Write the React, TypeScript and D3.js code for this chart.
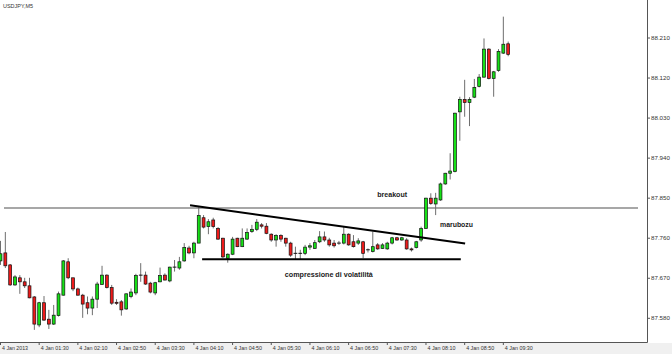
import React from "react";
import * as d3 from "d3";

const W = 672;
const H = 354;

const openP = [87.709,87.727,87.700,87.655,87.671,87.662,87.653,87.628,87.565,87.615,87.578,87.567,87.586,87.632,87.707,87.671,87.646,87.632,87.615,87.603,87.623,87.656,87.677,87.649,87.616,87.617,87.601,87.629,87.637,87.677,87.677,87.659,87.637,87.662,87.677,87.664,87.695,87.693,87.709,87.738,87.727,87.749,87.806,87.786,87.801,87.782,87.760,87.715,87.724,87.760,87.741,87.758,87.775,87.780,87.790,87.787,87.769,87.756,87.766,87.760,87.749,87.726,87.726,87.726,87.740,87.737,87.752,87.763,87.756,87.749,87.749,87.749,87.769,87.752,87.749,87.752,87.734,87.730,87.745,87.737,87.736,87.749,87.761,87.756,87.756,87.736,87.739,87.756,87.782,87.850,87.837,87.846,87.882,87.906,87.910,88.044,88.072,88.065,88.077,88.101,88.122,88.185,88.119,88.137,88.176,88.197];
const highP = [87.754,87.774,87.702,87.677,87.677,87.671,87.671,87.630,87.617,87.630,87.599,87.610,87.640,87.711,87.715,87.671,87.649,87.635,87.629,87.629,87.662,87.698,87.679,87.655,87.623,87.621,87.636,87.647,87.680,87.704,87.685,87.662,87.662,87.694,87.681,87.696,87.711,87.718,87.749,87.743,87.752,87.830,87.812,87.803,87.806,87.785,87.761,87.726,87.763,87.761,87.782,87.782,87.790,87.803,87.794,87.794,87.771,87.769,87.769,87.761,87.752,87.741,87.734,87.745,87.749,87.756,87.776,87.775,87.761,87.756,87.754,87.786,87.771,87.767,87.760,87.754,87.737,87.775,87.749,87.749,87.752,87.763,87.763,87.763,87.760,87.739,87.754,87.786,87.851,87.861,87.862,87.885,87.907,87.951,88.042,88.078,88.116,88.077,88.118,88.129,88.209,88.187,88.136,88.185,88.258,88.202];
const lowP = [87.700,87.693,87.653,87.653,87.635,87.648,87.625,87.554,87.560,87.574,87.556,87.565,87.584,87.631,87.668,87.641,87.631,87.581,87.589,87.587,87.603,87.655,87.647,87.610,87.610,87.586,87.599,87.625,87.632,87.662,87.655,87.636,87.632,87.661,87.665,87.661,87.685,87.689,87.707,87.724,87.715,87.749,87.782,87.769,87.782,87.756,87.715,87.705,87.722,87.740,87.740,87.756,87.772,87.776,87.782,87.769,87.752,87.741,87.752,87.741,87.718,87.711,87.711,87.722,87.734,87.736,87.749,87.752,87.741,87.739,87.745,87.746,87.743,87.739,87.745,87.715,87.728,87.728,87.734,87.736,87.734,87.746,87.754,87.754,87.734,87.730,87.737,87.752,87.781,87.835,87.812,87.844,87.880,87.892,87.908,87.979,88.033,88.012,88.075,88.099,88.121,88.117,88.078,88.134,88.174,88.169];
const closeP = [87.725,87.698,87.655,87.673,87.662,87.653,87.626,87.567,87.615,87.576,87.567,87.587,87.635,87.709,87.671,87.646,87.632,87.612,87.603,87.623,87.657,87.677,87.649,87.614,87.615,87.599,87.635,87.639,87.676,87.677,87.657,87.639,87.660,87.676,87.666,87.695,87.695,87.707,87.739,87.727,87.749,87.811,87.785,87.797,87.786,87.758,87.718,87.724,87.758,87.741,87.760,87.773,87.780,87.796,87.787,87.771,87.756,87.766,87.758,87.749,87.722,87.726,87.726,87.740,87.743,87.750,87.763,87.756,87.745,87.743,87.749,87.769,87.745,87.741,87.754,87.726,87.734,87.741,87.736,87.745,87.749,87.761,87.756,87.761,87.736,87.734,87.752,87.782,87.850,87.838,87.850,87.882,87.906,87.911,88.041,88.072,88.065,88.072,88.099,88.122,88.185,88.119,88.134,88.180,88.196,88.173];

const priceTicks = [87.58, 87.67, 87.76, 87.85, 87.94, 88.03, 88.12, 88.21];
const timeLabels = ["4 Jan 2013","4 Jan 01:30","4 Jan 02:10","4 Jan 02:50","4 Jan 03:30","4 Jan 04:10","4 Jan 04:50","4 Jan 05:30","4 Jan 06:10","4 Jan 06:50","4 Jan 07:30","4 Jan 08:10","4 Jan 08:50","4 Jan 09:30"];
const timeTickIndex = [0,8,16,24,32,40,48,56,64,72,80,88,96,104];

const levelPrice = 87.828;
const resistance = [{ i: 39.2, p: 87.834 }, { i: 96.1, p: 87.748 }];
const support = [{ i: 41.7, p: 87.713 }, { i: 95.2, p: 87.713 }];

const symbolTitle = "USDJPY,M5";
const notes = [
  { text: "breakout", i: 77.9, p: 87.853, w: 30 },
  { text: "marubozu", i: 90.9, p: 87.786, w: 33 },
  { text: "compressione di volatilità", i: 58.8, p: 87.672, w: 88 },
];

export default function App() {
  const plotRight = 647;
  const plotBottom = 342;
  const x = d3.scaleLinear().domain([0, 105]).range([0.5, 0.5 + 105 * 4.835]);
  const y = d3.scaleLinear().domain([87.58, 88.21]).range([318.3, 38]);
  const bodyW = 2.9;
  const font = "'Liberation Sans', Arial, sans-serif";
  const line = d3.line<{ i: number; p: number }>().x((d) => x(d.i)).y((d) => y(d.p));

  return (
    <svg width={W} height={H} style={{ position: "absolute", left: 0, top: 0, background: "#fff" }} fontFamily={font}>
      <rect x={0} y={0} width={W} height={H} fill="#fff" />
      <rect x={0} y={plotBottom + 1} width={W} height={H - plotBottom - 1} fill="#f0f0f0" />
      <text x={3} y={8} fontSize={6} fill="#333" textLength={30} lengthAdjust="spacingAndGlyphs">{symbolTitle}</text>

      {/* level line */}
      <line x1={4} x2={638} y1={y(levelPrice)} y2={y(levelPrice)} stroke="#8a8a8a" strokeWidth={1.4} />

      {/* candles */}
      {openP.map((o, i) => {
        const c = closeP[i];
        const cx = x(i);
        const up = c > o;
        const doji = Math.abs(c - o) < 0.0008;
        const top = y(Math.max(o, c));
        const bot = y(Math.min(o, c));
        return (
          <g key={i}>
            <line x1={cx} x2={cx} y1={y(highP[i])} y2={y(lowP[i])} stroke="#6e6e6e" strokeWidth={1} />
            {doji ? (
              <line x1={cx - bodyW / 2 - 0.4} x2={cx + bodyW / 2 + 0.4} y1={top} y2={top} stroke="#111" strokeWidth={1} />
            ) : (
              <rect x={cx - bodyW / 2} y={top} width={bodyW} height={Math.max(bot - top, 1)} fill={up ? "#16e016" : "#ee1a1a"} stroke="#111" strokeWidth={0.7} />
            )}
          </g>
        );
      })}

      {/* trend lines */}
      <path d={line(resistance) || ""} stroke="#000" strokeWidth={2} fill="none" />
      <path d={line(support) || ""} stroke="#000" strokeWidth={2} fill="none" />

      {notes.map((n) => (
        <text key={n.text} x={x(n.i)} y={y(n.p)} fontSize={7} fontWeight="bold" fill="#1a1a1a" textLength={n.w} lengthAdjust="spacingAndGlyphs">{n.text}</text>
      ))}

      {/* axes */}
      <line x1={plotRight + 0.5} x2={plotRight + 0.5} y1={0} y2={plotBottom + 0.5} stroke="#555" strokeWidth={1} />
      <line x1={0} x2={plotRight + 0.5} y1={plotBottom + 0.5} y2={plotBottom + 0.5} stroke="#555" strokeWidth={1} />
      {priceTicks.map((p) => (
        <g key={p}>
          <line x1={plotRight} x2={plotRight + 3} y1={y(p)} y2={y(p)} stroke="#555" strokeWidth={1} />
          <text x={plotRight + 4} y={y(p)} dy="0.35em" fontSize={6.2} fill="#333">{p.toFixed(3)}</text>
        </g>
      ))}
      {timeTickIndex.map((ti, k) => (
        <g key={ti}>
          <line x1={x(ti)} x2={x(ti)} y1={plotBottom} y2={plotBottom + 3} stroke="#555" strokeWidth={1} />
          <text x={x(ti) + 1.5} y={349.5} fontSize={6} fill="#333" textLength={k === 0 ? 26 : 28} lengthAdjust="spacingAndGlyphs">{timeLabels[k]}</text>
        </g>
      ))}
    </svg>
  );
}
